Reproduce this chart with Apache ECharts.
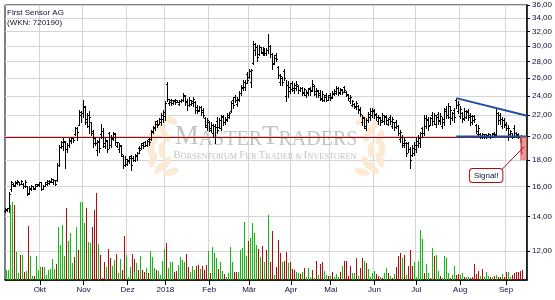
<!DOCTYPE html>
<html><head><meta charset="utf-8">
<script src="https://cdn.jsdelivr.net/npm/echarts@6/dist/echarts.min.js"></script>
<style>html,body{margin:0;padding:0;background:#fff}#c{width:555px;height:300px}</style>
</head><body><div id="c"></div>
<script>
// Trading days (Xetra) Sep 2017 - Sep 2018
const dates = [
"2017-09-07","2017-09-08","2017-09-11","2017-09-12","2017-09-13","2017-09-14","2017-09-15","2017-09-18","2017-09-19","2017-09-20","2017-09-21","2017-09-22","2017-09-25","2017-09-26","2017-09-27","2017-09-28","2017-09-29",
"2017-10-02","2017-10-03","2017-10-04","2017-10-05","2017-10-06","2017-10-09","2017-10-10","2017-10-11","2017-10-12","2017-10-13","2017-10-16","2017-10-17","2017-10-18","2017-10-19","2017-10-20","2017-10-23","2017-10-24","2017-10-25","2017-10-26","2017-10-27","2017-10-30","2017-10-31",
"2017-11-01","2017-11-02","2017-11-03","2017-11-06","2017-11-07","2017-11-08","2017-11-09","2017-11-10","2017-11-13","2017-11-14","2017-11-15","2017-11-16","2017-11-17","2017-11-20","2017-11-21","2017-11-22","2017-11-23","2017-11-24","2017-11-27","2017-11-28","2017-11-29","2017-11-30",
"2017-12-01","2017-12-04","2017-12-05","2017-12-06","2017-12-07","2017-12-08","2017-12-11","2017-12-12","2017-12-13","2017-12-14","2017-12-15","2017-12-18","2017-12-19","2017-12-20","2017-12-21","2017-12-22","2017-12-27","2017-12-28","2017-12-29",
"2018-01-02","2018-01-03","2018-01-04","2018-01-05","2018-01-08","2018-01-09","2018-01-10","2018-01-11","2018-01-12","2018-01-15","2018-01-16","2018-01-17","2018-01-18","2018-01-19","2018-01-22","2018-01-23","2018-01-24","2018-01-25","2018-01-26","2018-01-29","2018-01-30","2018-01-31",
"2018-02-01","2018-02-02","2018-02-05","2018-02-06","2018-02-07","2018-02-08","2018-02-09","2018-02-12","2018-02-13","2018-02-14","2018-02-15","2018-02-16","2018-02-19","2018-02-20","2018-02-21","2018-02-22","2018-02-23","2018-02-26","2018-02-27","2018-02-28",
"2018-03-01","2018-03-02","2018-03-05","2018-03-06","2018-03-07","2018-03-08","2018-03-09","2018-03-12","2018-03-13","2018-03-14","2018-03-15","2018-03-16","2018-03-19","2018-03-20","2018-03-21","2018-03-22","2018-03-23","2018-03-26","2018-03-27","2018-03-28","2018-03-29",
"2018-04-03","2018-04-04","2018-04-05","2018-04-06","2018-04-09","2018-04-10","2018-04-11","2018-04-12","2018-04-13","2018-04-16","2018-04-17","2018-04-18","2018-04-19","2018-04-20","2018-04-23","2018-04-24","2018-04-25","2018-04-26","2018-04-27","2018-04-30",
"2018-05-02","2018-05-03","2018-05-04","2018-05-07","2018-05-08","2018-05-09","2018-05-10","2018-05-11","2018-05-14","2018-05-15","2018-05-16","2018-05-17","2018-05-18","2018-05-21","2018-05-22","2018-05-23","2018-05-24","2018-05-25","2018-05-28","2018-05-29","2018-05-30","2018-05-31",
"2018-06-01","2018-06-04","2018-06-05","2018-06-06","2018-06-07","2018-06-08","2018-06-11","2018-06-12","2018-06-13","2018-06-14","2018-06-15","2018-06-18","2018-06-19","2018-06-20","2018-06-21","2018-06-22","2018-06-25","2018-06-26","2018-06-27","2018-06-28","2018-06-29",
"2018-07-02","2018-07-03","2018-07-04","2018-07-05","2018-07-06","2018-07-09","2018-07-10","2018-07-11","2018-07-12","2018-07-13","2018-07-16","2018-07-17","2018-07-18","2018-07-19","2018-07-20","2018-07-23","2018-07-24","2018-07-25","2018-07-26","2018-07-27","2018-07-30","2018-07-31",
"2018-08-01","2018-08-02","2018-08-03","2018-08-06","2018-08-07","2018-08-08","2018-08-09","2018-08-10","2018-08-13","2018-08-14","2018-08-15","2018-08-16","2018-08-17","2018-08-20","2018-08-21","2018-08-22","2018-08-23","2018-08-24","2018-08-27","2018-08-28","2018-08-29","2018-08-30","2018-08-31",
"2018-09-03","2018-09-04","2018-09-05","2018-09-06","2018-09-07","2018-09-10","2018-09-11","2018-09-12","2018-09-13","2018-09-14","2018-09-17"
];

const opens = [
14.35,14.4,14.5,15.8,16.2,16.1,16.25,16.3,16.2,16.2,16.0,16.0,15.55,15.8,16.0,15.9,16.05,16.1,16.3,15.85,
16.05,16.15,16.25,16.35,16.3,16.45,16.45,17.6,19.1,19.2,19.5,18.9,19.3,19.6,19.85,20.2,20.8,21.1,22.0,22.2,
22.9,21.3,21.0,21.3,20.5,19.9,18.8,19.6,20.2,20.5,19.2,19.6,20.3,19.3,19.8,20.2,19.2,18.9,19.2,18.3,
17.6,17.7,17.9,18.3,18.2,18.0,18.3,19.0,19.0,19.4,19.5,19.3,19.8,19.8,20.4,20.8,21.4,21.2,21.3,21.6,
21.9,25.3,23.2,23.3,23.2,23.6,23.5,23.1,23.4,23.5,24.0,23.4,23.0,23.1,23.2,23.3,22.8,22.5,22.8,22.5,
21.7,20.9,21.3,20.6,20.3,20.0,21.4,20.9,20.8,21.9,21.3,21.5,21.8,22.4,23.6,23.9,23.1,23.6,24.3,24.8,
25.0,26.5,26.1,25.5,27.8,29.5,29.8,28.9,29.8,29.0,29.5,29.0,29.5,30.0,28.9,27.8,28.8,27.3,25.5,26.0,
26.8,24.0,25.2,25.0,25.4,24.6,24.8,25.1,24.6,24.9,24.3,24.1,24.3,24.9,24.6,25.1,24.2,24.5,24.3,23.7,
23.6,24.1,23.6,24.1,23.9,24.2,24.3,24.9,24.3,24.6,25.0,24.4,24.1,23.4,23.0,23.1,22.8,22.9,22.6,21.3,
21.7,20.8,21.5,21.8,22.0,22.4,22.1,21.4,21.7,21.5,21.4,21.9,21.2,21.8,21.0,21.3,21.3,21.0,19.8,20.0,
19.3,19.4,19.4,18.9,18.4,18.6,18.9,19.3,19.4,20.8,20.3,21.0,21.6,21.1,22.0,21.4,21.2,22.1,21.4,21.0,
21.3,22.6,22.0,21.8,21.7,22.5,23.5,22.4,21.9,22.2,21.7,21.8,22.4,22.0,21.9,21.9,21.1,20.2,20.2,20.0,
20.0,20.0,20.0,20.2,20.0,20.3,20.2,22.2,22.0,21.0,21.5,21.2,20.0,20.2,20.3,20.8,20.3,20.2,20.0,20.0
];
const highs = [
14.5,14.55,15.6,16.4,16.25,16.4,16.5,16.35,16.45,16.25,16.45,16.05,16.0,16.1,16.05,16.2,16.2,16.35,16.3,16.1,
16.35,16.45,16.45,16.6,16.55,16.45,17.8,19.3,19.6,19.85,19.6,19.4,19.85,20.0,19.9,20.9,20.9,22.5,22.4,23.5,
22.9,22.2,22.4,21.35,20.6,20.0,19.7,19.85,21.2,20.75,19.85,19.7,20.45,20.1,20.45,20.3,19.55,19.4,19.25,18.4,
18.3,18.1,18.3,18.4,18.3,18.5,18.7,19.2,19.4,19.5,19.6,19.7,19.9,20.6,21.0,21.4,21.5,21.7,22.2,22.5,
23.4,25.5,23.7,23.7,23.5,23.7,23.6,23.5,23.7,24.3,24.1,23.7,23.9,23.5,23.9,23.4,23.0,22.9,22.9,22.7,
21.8,21.7,21.4,21.3,21.2,21.2,21.8,21.7,22.0,22.0,21.8,22.2,22.3,23.4,23.9,24.1,23.9,24.5,25.2,25.7,
25.7,26.7,27.0,27.1,30.6,30.4,30.1,30.1,29.9,29.9,29.7,29.7,31.7,30.1,29.0,28.8,29.0,27.4,26.5,26.1,
27.1,25.7,25.6,25.4,25.6,25.4,25.6,25.2,25.0,25.0,24.9,24.6,24.9,25.0,25.7,25.2,24.9,24.6,24.6,24.5,
24.1,24.3,24.1,24.3,24.5,24.7,25.1,25.0,24.9,24.7,25.1,24.5,24.2,24.1,23.6,23.2,23.4,23.0,22.8,22.0,
21.85,21.7,22.35,22.7,22.7,22.6,22.2,22.0,21.85,22.2,22.0,22.0,21.7,22.0,21.85,21.35,21.5,21.05,20.6,20.1,
19.85,19.55,19.55,19.1,19.25,19.55,19.85,20.1,20.45,20.9,22.0,22.0,21.85,21.85,22.35,22.2,22.0,22.35,22.2,21.85,
22.7,22.9,23.2,22.9,22.35,22.7,23.7,23.4,22.9,22.35,22.7,22.5,22.6,22.2,22.0,22.0,21.2,21.05,20.3,20.3,
20.25,20.25,20.3,20.25,20.3,20.45,22.7,22.35,22.2,21.85,21.7,21.35,21.05,20.6,20.3,21.05,20.45,20.3,20.0,20.1
];
const lows = [
14.3,14.35,14.3,15.7,16.0,16.05,16.2,16.1,16.15,15.9,15.95,15.4,15.5,15.75,15.8,15.85,16.0,16.05,15.75,15.8,
16.0,16.1,16.2,16.3,16.2,16.1,16.4,17.5,19.0,18.8,17.4,18.7,19.1,19.4,19.55,20.1,19.7,21.05,21.35,21.8,
21.2,20.9,20.3,20.1,19.1,19.25,18.4,18.7,19.85,19.1,19.0,18.7,19.0,19.1,19.7,19.25,19.1,18.7,18.3,17.4,
17.5,17.6,17.8,17.2,17.9,17.95,18.0,18.6,18.95,19.0,19.2,19.2,19.3,19.7,20.3,20.6,20.9,21.15,21.05,21.3,
21.5,23.4,23.0,23.0,23.1,23.1,23.3,23.0,23.35,23.4,23.0,22.5,22.9,23.0,22.9,22.2,22.2,22.4,22.0,21.8,
20.9,20.6,20.5,20.4,20.0,19.4,20.3,20.8,20.6,21.1,21.2,21.4,21.7,22.3,22.7,23.3,22.9,23.4,24.1,24.6,
24.6,25.4,26.0,25.0,27.7,28.8,28.0,28.8,29.0,28.8,28.8,28.8,29.0,28.6,27.1,27.7,28.0,26.0,25.2,25.2,
25.7,23.4,23.9,24.3,24.5,24.3,24.6,24.3,24.5,24.1,24.1,23.9,24.1,24.1,24.5,24.1,23.9,23.9,23.5,23.4,
23.4,23.4,23.5,23.6,23.8,24.1,24.2,24.1,24.2,24.2,24.4,24.0,23.6,23.2,22.9,22.7,22.6,22.2,21.9,21.05,
20.75,20.6,21.35,21.5,21.85,21.7,21.5,21.2,21.05,21.35,21.2,21.2,21.05,21.2,20.75,20.6,20.75,20.1,19.55,19.1,
19.1,18.3,18.7,17.4,18.3,18.4,18.7,19.1,19.1,20.0,20.1,20.75,20.6,21.05,21.05,21.2,20.9,21.2,21.2,20.75,
21.05,21.7,21.7,21.2,21.5,21.35,22.7,22.2,21.7,21.35,21.5,21.7,21.5,21.05,21.2,21.35,20.3,20.0,19.85,19.9,
19.9,19.9,19.95,19.9,19.95,20.0,20.1,21.2,21.2,20.75,20.9,20.6,19.7,20.1,19.85,20.0,20.0,19.85,19.55,18.5
];
const closes = [
14.45,14.5,15.5,16.3,16.05,16.3,16.4,16.15,16.4,16.0,16.3,15.5,15.9,16.0,15.85,16.15,16.15,16.3,15.85,16.05,
16.3,16.4,16.4,16.55,16.5,16.2,17.6,19.1,19.5,19.6,18.9,19.3,19.7,19.9,19.7,20.8,20.4,22.3,22.2,22.8,
21.6,22.0,21.8,20.3,19.4,19.4,19.5,19.0,20.0,19.4,19.7,18.9,19.3,19.9,20.3,19.5,19.5,19.3,18.5,17.6,
18.1,18.0,18.2,17.6,18.0,18.4,18.6,18.8,19.3,19.2,19.3,19.6,19.5,20.5,20.9,21.2,21.1,21.6,22.0,22.3,
23.2,23.7,23.6,23.5,23.4,23.3,23.35,23.4,23.6,24.1,23.3,23.0,23.6,23.4,23.7,22.5,22.4,22.8,22.3,22.0,
21.1,21.5,20.8,21.1,21.0,20.9,20.6,21.5,21.8,21.3,21.6,22.0,22.2,23.2,23.0,23.5,23.7,24.3,25.0,25.5,
25.4,25.8,26.8,26.9,30.2,29.8,28.6,29.8,29.2,29.6,29.0,29.5,30.0,28.9,27.7,28.4,28.3,26.3,26.2,25.5,
26.0,25.2,24.5,24.7,24.9,25.2,25.3,24.6,24.9,24.4,24.7,24.4,24.7,24.5,25.3,24.5,24.6,24.1,23.8,24.2,
23.9,23.6,23.9,23.8,24.3,24.5,24.9,24.4,24.7,24.4,24.6,24.2,23.8,23.9,23.4,22.9,23.2,22.5,22.1,21.8,
21.0,21.5,22.1,22.4,22.5,22.0,21.8,21.8,21.3,22.0,21.8,21.5,21.6,21.4,21.6,20.9,21.0,20.3,20.4,19.4,
19.7,18.6,18.9,18.0,19.0,19.3,19.6,19.9,20.3,20.3,21.7,21.5,21.0,21.7,21.4,22.0,21.8,21.5,21.9,21.6,
22.4,22.0,22.9,22.5,22.2,21.8,23.0,23.1,22.6,21.6,22.4,22.3,21.8,21.3,21.5,21.6,20.5,20.8,20.0,20.2,
20.2,20.15,20.2,20.0,20.2,20.1,22.2,21.5,21.6,21.5,21.1,20.8,20.8,20.5,20.0,20.3,20.1,20.0,19.7,18.7
];
// Volume (relative units)
const volumes = [
10,10,75,78,75,28,7,25,25,8, 9,54,24,4,4,24,10,13,13,13, 5,10,11,21,11,16,53,35,55,24,
72,39,47,17,23,53,30,78,78,57, 72,38,37,53,70,87,36,25,2,18, 13,31,22,14,20,26,7,21,10,44,
25,3,13,26,21,8,17,10,24,10, 8,12,7,29,23,12,10,9,5,19, 31,37,12,18,18,8,9,15,23,20,
18,26,13,8,14,10,14,15,11,14, 10,15,29,7,33,27,22,11,18,9, 6,3,7,33,18,8,8,8,30,32,
58,24,39,42,57,47,35,31,23,34, 18,30,65,18,49,5,13,40,27,18, 19,28,17,18,11,10,8,7,6,8,
12,3,12,3,10,2,19,5,16,18, 9,5,4,4,8,3,6,3,8,14, 19,19,4,14,7,7,22,4,12,22,
19,17,11,3,7,9,6,4,3,2, 7,12,7,4,2,6,13,24,27,22, 25,5,14,30,14,18,3,19,50,41,
7,16,7,2,32,24,25,9,4,2, 24,22,7,2,5,14,5,6,5,7, 3,3,3,2,3,16,6,9,4,11,
3,8,4,3,3,4,5,3,3,6, 3,8,8,3,5,7,8,8,9,10
];
// g = up day (green), r = down day (red)
const volumeDirection =
"ggggrggrgr" + "grggrgggrg" + "gggggrgggg" + "rgggrgrggg" + "rggrrrgrrr" + "grrggrggrr" +
"gggrrggrgr" + "rgrgggrggg" + "grgggrrggg" + "grrgggrrgr" + "rrgrgggrgg" + "rggggrrggg" +
"ggrggggrgr" + "grgrrgrrrg" + "rrgrrrggrg" + "rgggrgrgrr" + "ggrgrgggrg" + "rrrrggrgrr" +
"grggggrrgr" + "ggrgrgrrrg" + "rgrrrggggg" + "rggrgrggrg" + "gggrggrrgg" + "rggrrrrrgr" +
"gggrgrgrrg" + "rrggrrrrrr";

const monthNames = {"01":"Jan","02":"Feb","03":"Mär","04":"Apr","05":"Mai","06":"Jun","07":"Jul","08":"Aug","09":"Sep","10":"Okt","11":"Nov","12":"Dez"};
const priceTicks = [12,14,16,18,20,22,24,26,28,30,32,34,36];

// Chart annotations (values in data units)
const supportLevel = 20.0;
const resistanceLine = [["2018-07-30", 23.75], ["2018-09-17", 21.95]];
const supportLine = [["2018-07-30", 20.0], ["2018-09-17", 20.0]];
const signalZone = ["2018-09-13", "2018-09-17", 20.0, 18.0];
const signalLabel = ["2018-08-20", 16.8, "Signal!"];
const signalPointer = [["2018-08-30", 17.27], ["2018-09-14", 19.1]];

const ix = d => dates.indexOf(d);
const isMonthStart = i => i > 0 && dates[i].slice(5,7) !== dates[i-1].slice(5,7);
const TXT = '#10103a';
const FONT = 'Liberation Sans, Arial, sans-serif';
const GREEN = '#00c800', RED = '#d00000';

const ohlcData = [];
for (let i = 0; i < closes.length; i++) ohlcData.push([i, opens[i], highs[i], lows[i], closes[i]]);
const volData = volumes.map((v, i) => [i, v]);

const chart = echarts.init(document.getElementById('c'), null, {renderer: 'canvas'});

// Laurel leaves (decoration of the watermark)
const leaves = [[170,120,-0.45],[160,127,-0.9],[153,137,-1.3],[151,149,-1.55],[153,160,1.2],[160,168,0.8],[171,172,0.3],
                [165,135,-1.1],[162,150,-1.5],[166,163,1.0]];
const leafEls = [];
leaves.forEach(([x,y,r]) => {
  leafEls.push({type:'ellipse', z:1, silent:true, x:x, y:y, rotation:r, shape:{cx:0, cy:0, rx:8, ry:3.5}, style:{fill:'#fde8d0', stroke:null, lineWidth:0, opacity:0.9}});
  leafEls.push({type:'ellipse', z:1, silent:true, x:533-x, y:y, rotation:-r, shape:{cx:0, cy:0, rx:8, ry:3.5}, style:{fill:'#fde8d0', stroke:null, lineWidth:0, opacity:0.9}});
});

const serif = 'Liberation Serif, DejaVu Serif, serif';
const wmColor = '#c4c4c4';

chart.setOption({
  animation: false,
  backgroundColor: '#fff',
  grid: {left: 5, right: 28, top: 5, bottom: 20, show: true, borderColor: '#000', borderWidth: 1, backgroundColor: 'transparent'},
  xAxis: {
    type: 'category', data: dates, boundaryGap: true,
    axisLine: {show: true, lineStyle: {color: '#000', width: 1.5}},
    axisTick: {show: true, alignWithLabel: true, interval: (i) => isMonthStart(i), length: 5, lineStyle: {color: '#000'}},
    axisLabel: {interval: (i) => isMonthStart(i), margin: 6, fontSize: 8, fontFamily: FONT, color: TXT,
      formatter: (v) => v.slice(5,7) === '01' ? v.slice(0,4) : monthNames[v.slice(5,7)]},
    splitLine: {show: true, interval: (i) => isMonthStart(i), lineStyle: {color: '#d4d4d4', width: 1}}
  },
  yAxis: [
    {
      type: 'log', logBase: 10, position: 'right', min: 10.53, max: 36.02, scale: true,
      axisLine: {show: true, lineStyle: {color: '#000', width: 1.5}},
      axisTick: {show: true, length: 3, lineStyle: {color: '#000'}, customValues: priceTicks},
      axisLabel: {customValues: priceTicks, margin: 5, fontSize: 8, fontFamily: FONT, color: TXT,
        formatter: (v) => (Math.round(v * 100) / 100).toFixed(2).replace('.', ',')},
      splitLine: {show: true, lineStyle: {color: '#d4d4d4', width: 1}},
      minorTick: {show: false}, minorSplitLine: {show: false}
    },
    {type: 'value', min: 0, max: 275, show: false, splitLine: {show: false}}
  ],
  graphic: [
    {type: 'text', left: 7, top: 8, z: 10, silent: true,
      style: {text: 'First Sensor AG\n(WKN: 720190)', font: '8px ' + FONT, fill: TXT, lineHeight: 10}},
    {type: 'text', x: 266, y: 150, z: 1, silent: true,
      style: {text: '{b|M}{s|ASTER}{b|T}{s|RADERS}', align: 'center', verticalAlign: 'bottom',
        rich: {b: {fontFamily: serif, fontSize: 27, lineHeight: 27, fill: wmColor, verticalAlign: 'bottom'},
               s: {fontFamily: serif, fontSize: 20, lineHeight: 20, fill: wmColor, verticalAlign: 'bottom'}}}},
    {type: 'text', x: 265, y: 161, z: 1, silent: true,
      style: {text: '{b|B}{s|ÖRSENFORUM }{b|F}{s|ÜR }{b|T}{s|RADER & }{b|I}{s|NVESTOREN}', align: 'center', verticalAlign: 'bottom',
        rich: {b: {fontFamily: serif, fontSize: 10.5, lineHeight: 10, fill: wmColor, verticalAlign: 'bottom'},
               s: {fontFamily: serif, fontSize: 8.3, lineHeight: 8, fill: wmColor, verticalAlign: 'bottom'}}}},
    ...leafEls
  ],
  series: [
    {
      name: 'Volumen', type: 'custom', xAxisIndex: 0, yAxisIndex: 1, data: volData, silent: true, z: 2,
      encode: {x: 0, y: 1},
      renderItem: (params, api) => {
        const i = params.dataIndex;
        const top = api.coord([i, volumes[i]]);
        const base = api.coord([i, 0]);
        // snap each 1px bar to an even pixel column so thin coloured bars stay crisp
        const xi = 2 * Math.round((top[0] - 0.5) / 2);
        const y0 = Math.round(top[1]);
        return {type: 'line', shape: {x1: xi + 0.5, y1: y0, x2: xi + 0.5, y2: Math.round(base[1])},
          style: {stroke: volumeDirection[i] === 'g' ? GREEN : RED, lineWidth: 1}};
      }
    },
    {
      name: 'Support', type: 'custom', xAxisIndex: 0, yAxisIndex: 0, data: [[0, supportLevel]], silent: true, z: 3,
      renderItem: (params, api) => {
        const band = api.size([1, 0])[0];
        const a = api.coord([0, supportLevel]);
        const b = api.coord([dates.length - 1, supportLevel]);
        const y = Math.round(a[1]) + 0.5;
        return {type: 'line', shape: {x1: a[0] - band / 2, y1: y, x2: b[0] + band / 2, y2: y},
          style: {stroke: '#b00000', lineWidth: 1}};
      }
    },
    {
      name: 'Kurs', type: 'custom', xAxisIndex: 0, yAxisIndex: 0, data: ohlcData, silent: true, z: 4,
      encode: {x: 0, y: [1, 2, 3, 4]},
      renderItem: (params, api) => {
        const i = params.dataIndex;
        const pH = api.coord([i, highs[i]]);
        const pL = api.coord([i, lows[i]]);
        const pO = api.coord([i, opens[i]]);
        const pC = api.coord([i, closes[i]]);
        const xi = Math.floor(pH[0]);
        const st = {stroke: '#000', lineWidth: 1};
        const yo = Math.round(pO[1]) + 0.5, yc = Math.round(pC[1]) + 0.5;
        return {type: 'group', children: [
          {type: 'line', shape: {x1: xi + 0.5, y1: Math.round(pH[1]), x2: xi + 0.5, y2: Math.round(pL[1]) + 1}, style: st},
          {type: 'line', shape: {x1: xi - 1, y1: yo, x2: xi, y2: yo}, style: st},
          {type: 'line', shape: {x1: xi + 1, y1: yc, x2: xi + 2, y2: yc}, style: st}
        ]};
      }
    },
    {
      name: 'Signal', type: 'custom', xAxisIndex: 0, yAxisIndex: 0, data: [[0, supportLevel]], silent: true, z: 5, clip: false,
      renderItem: (params, api) => {
        const band = api.size([1, 0])[0];
        const r0 = api.coord([ix(resistanceLine[0][0]), resistanceLine[0][1]]);
        const r1 = api.coord([ix(resistanceLine[1][0]), resistanceLine[1][1]]);
        const s0 = api.coord([ix(supportLine[0][0]), supportLine[0][1]]);
        const s1 = api.coord([ix(supportLine[1][0]), supportLine[1][1]]);
        const z0 = api.coord([ix(signalZone[0]), signalZone[2]]);
        const z1 = api.coord([ix(signalZone[1]), signalZone[3]]);
        const p0 = api.coord([ix(signalPointer[0][0]), signalPointer[0][1]]);
        const p1 = api.coord([ix(signalPointer[1][0]), signalPointer[1][1]]);
        const lc = api.coord([ix(signalLabel[0]), signalLabel[1]]);
        const blue = {stroke: '#1f4f9e', lineWidth: 2};
        const zx0 = z0[0] - band * 1.0, zx1 = z1[0] + band / 2;
        return {type: 'group', children: [
          {type: 'line', shape: {x1: r0[0], y1: r0[1], x2: r1[0] + band / 2, y2: r1[1]}, style: blue},
          {type: 'line', shape: {x1: s0[0], y1: s0[1], x2: s1[0] + band / 2, y2: s1[1]}, style: blue},
          {type: 'rect', shape: {x: zx0, y: z0[1], width: zx1 - zx0, height: z1[1] - z0[1]}, style: {fill: 'rgba(238,104,104,0.72)'}},
          {type: 'line', shape: {x1: p0[0], y1: p0[1], x2: p1[0], y2: p1[1]}, style: {stroke: '#a81010', lineWidth: 1}},
          {type: 'text', x: lc[0], y: lc[1], style: {text: signalLabel[2], align: 'center', verticalAlign: 'middle',
            font: '8px ' + FONT, fill: TXT, backgroundColor: '#fff', borderColor: '#a81010', borderWidth: 1,
            borderRadius: 3, padding: [2, 4, 2, 4], lineHeight: 9}}
        ]};
      }
    }
  ]
});
</script>
</body></html>
